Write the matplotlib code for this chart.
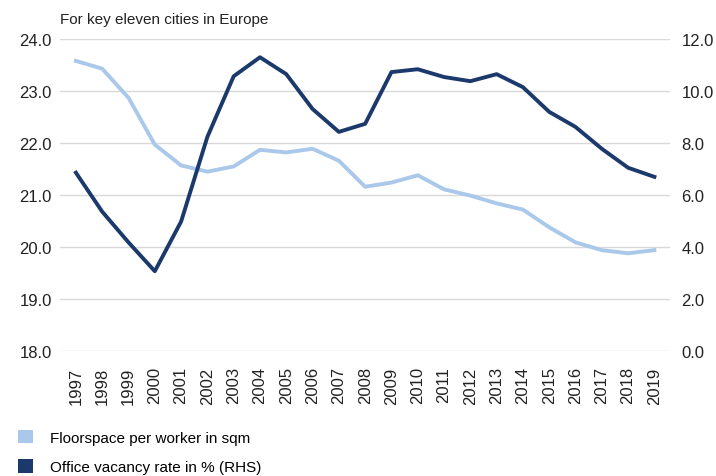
import matplotlib
matplotlib.use("Agg")
import matplotlib.pyplot as plt
from matplotlib.patches import Patch

years = [str(y) for y in range(1997, 2020)]
floorspace = [23.58, 23.43, 22.87, 21.97, 21.57, 21.45, 21.55, 21.87, 21.82, 21.89,
              21.66, 21.16, 21.24, 21.38, 21.11, 20.99, 20.84, 20.72, 20.38, 20.09,
              19.94, 19.88, 19.94]
vacancy = [6.86, 5.36, 4.18, 3.07, 4.98, 8.24, 10.57, 11.30, 10.65, 9.31,
           8.43, 8.74, 10.73, 10.84, 10.54, 10.38, 10.65, 10.15, 9.20, 8.62,
           7.78, 7.05, 6.70]
left_ticks = [18.0, 19.0, 20.0, 21.0, 22.0, 23.0, 24.0]
right_ticks = [0.0, 2.0, 4.0, 6.0, 8.0, 10.0, 12.0]

light = "#A9C8EA"
dark = "#1B3A6B"
plt.rcParams['font.family'] = ['Liberation Sans', 'DejaVu Sans']

fig = plt.figure(figsize=(7.16, 4.77), dpi=100)
ax = fig.add_axes([0.084, 0.262, 0.852, 0.654])
ax2 = ax.twinx()

x = list(range(len(years)))
ax.plot(x, floorspace, color=light, lw=2.8, solid_joinstyle='round', zorder=3)
ax2.plot(x, vacancy, color=dark, lw=2.8, solid_joinstyle='round', zorder=3)

ax.set_xlim(-0.6, len(years) - 0.4)
ax.set_ylim(18, 24)
ax2.set_ylim(0, 12)
ax.set_yticks(left_ticks)
ax.set_yticklabels([f"{v:.1f}" for v in left_ticks])
ax2.set_yticks(right_ticks)
ax2.set_yticklabels([f"{v:.1f}" for v in right_ticks])
ax.set_xticks(x)
ax.set_xticklabels(years, rotation=90)

ax.grid(axis='y', color='#D9D9D9', lw=1)
ax.set_axisbelow(True)
for a in (ax, ax2):
    for s in a.spines.values():
        s.set_visible(False)
    a.tick_params(length=0, labelsize=12, colors='#222222')
ax.tick_params(axis='y', pad=6)
ax2.tick_params(axis='y', pad=8)
ax.tick_params(axis='x', pad=11)

fig.text(0.084, 0.944, "For key eleven cities in Europe", fontsize=11,
         color='#222222', va='bottom', ha='left')

handles = [Patch(facecolor=light, edgecolor='none', label="Floorspace per worker in sqm"),
           Patch(facecolor=dark, edgecolor='none', label="Office vacancy rate in % (RHS)")]
fig.legend(handles=handles, loc='upper left', bbox_to_anchor=(0.016, 0.11),
           frameon=False, fontsize=11, handlelength=1.0, handleheight=1.0,
           handletextpad=1.1, labelspacing=0.95, borderaxespad=0)

fig.savefig("out.png", dpi=100)
